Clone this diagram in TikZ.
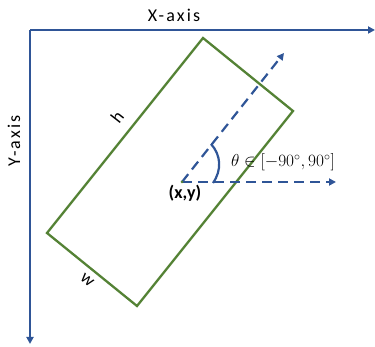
\documentclass[tikz,border=0pt]{standalone}
\usepackage{fontspec}
\setmainfont{Carlito}
\newfontfamily\spaced[LetterSpace=12]{Carlito}
\usetikzlibrary{arrows.meta}
\definecolor{axblue}{HTML}{2F5597}
\definecolor{rgreen}{HTML}{548235}
\tikzset{
  axis/.style={draw=axblue, line width=2.3pt, -{Triangle[length=7pt,width=7pt]}},
  dir/.style={draw=axblue, line width=2.2pt, dash pattern=on 10pt off 6pt, -{Triangle[length=7pt,width=7pt]}},
  box/.style={draw=rgreen, line width=2.3pt, line join=miter},
  lbl/.style={font=\fontsize{18}{21}\selectfont\spaced, inner sep=0pt},
}
\begin{document}
\begin{tikzpicture}[x=1pt,y=-1pt]
\useasboundingbox (0,0) rectangle (375,347);
\coordinate (O) at (30,30);
\coordinate (xe) at (375,30);
\coordinate (ye) at (30,344);
\draw[axis, -] (O) -- +(0,1);
\draw[axis] (O) -- (xe);
\draw[axis] (O) -- (ye);
\coordinate (T) at (203,38);
\coordinate (R) at (293,111);
\coordinate (B) at (137,306);
\coordinate (L) at (47,233);
\draw[box] (T) -- (R) -- (B) -- (L) -- cycle;
\coordinate (P) at (182,182);
\coordinate (hx) at (336,182);
\coordinate (dx) at (284,53);
\draw[dir] (P) -- (hx);
\draw[dir] (P) -- (dx);
\fill[rgreen] (P) circle (1.5pt);
\draw[draw=axblue, line width=2.2pt] (213,183) .. controls (222,170) and (221,155) .. (211,144);
\node[lbl] (xl) at (174,15) {X-axis};
\node[lbl, rotate=90] (yl) at (14,141) {Y-axis};
\node[lbl, rotate=52] (hl) at (117,117) {h};
\node[lbl, rotate=-39] (wl) at (87,280) {w};
\node[inner sep=0pt, font=\fontsize{16.5}{19}\selectfont] (th) at (283,162) {$\theta\in[-90^\circ,90^\circ]$};
\node[inner sep=0pt, font=\fontsize{18}{21}\selectfont\bfseries] (pl) at (185,193) {(x,y)};
\end{tikzpicture}
\end{document}
